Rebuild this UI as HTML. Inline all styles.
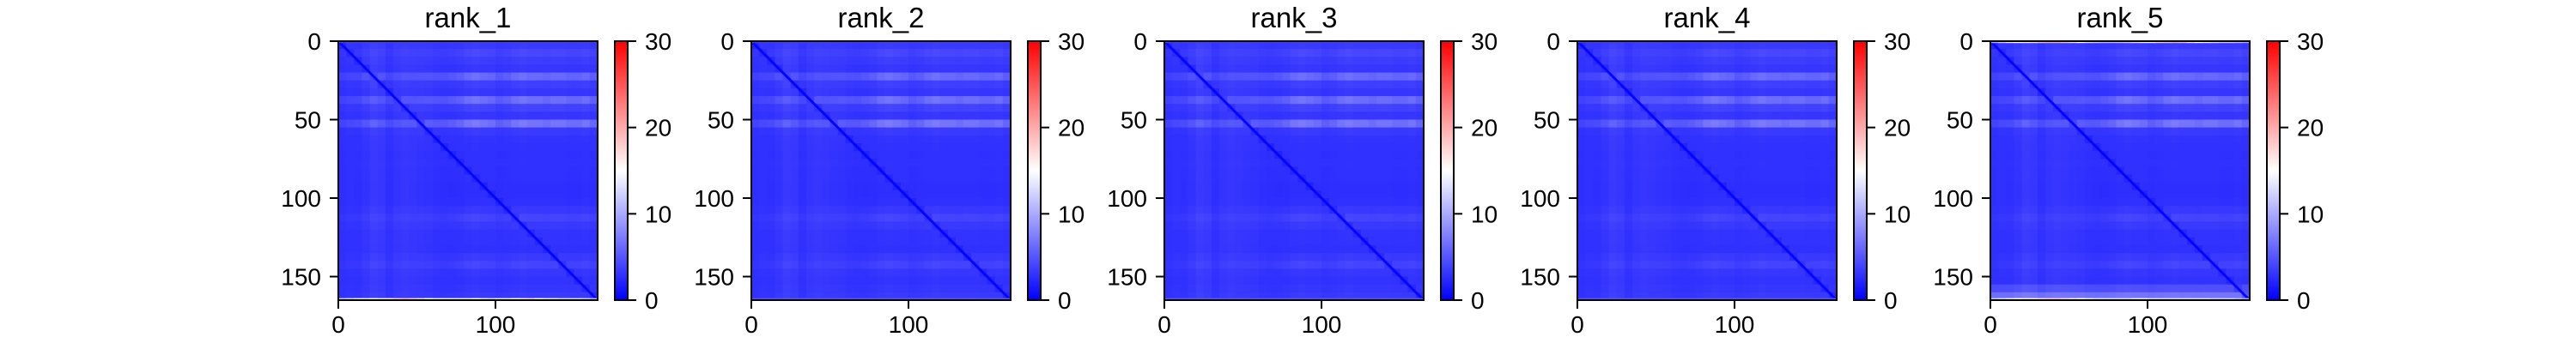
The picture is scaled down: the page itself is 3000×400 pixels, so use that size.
<!DOCTYPE html>
<html><head><meta charset="utf-8">
<style>
html,body{margin:0;padding:0;background:#fff;}
svg{display:block;font-family:"Liberation Sans","DejaVu Sans",sans-serif;}
</style></head>
<body>
<svg id="fig" width="3000" height="400" viewBox="0 0 3000 400" xmlns="http://www.w3.org/2000/svg">
<defs>
<linearGradient id="bwr" x1="0" y1="1" x2="0" y2="0">
<stop offset="0" stop-color="#0000ff"/><stop offset="0.5" stop-color="#ffffff"/><stop offset="1" stop-color="#ff0000"/>
</linearGradient>
</defs>
</svg>
<script>
// ---- data ----
const panelTitles = ["rank_1","rank_2","rank_3","rank_4","rank_5"];
const nResidues = 165;
const binSize = 5;
const baseValue = 2.3;
const diagValue = 0.3;
// row (y) band boosts per 5-residue bin
const rowBoost = [1.0,1.8,1.2,0.8,3.8,1.3,0.8,4.0,1.5,0.8,4.4,1.0,0.6,0.5,0.4,0.5,0.4,0.4,0.3,0.3,0.4,0.9,1.6,1.0,0.6,0.6,0.5,1.0,1.6,0.8,0.6,0.8,1.0];
// column weighting of row bands
const colScale = [0.3,0.35,0.4,0.5,0.6,0.5,0.4,0.45,0.5,0.5,0.55,0.6,0.6,0.6,0.7,0.8,1.0,1.1,1.0,0.9,0.7,0.8,1.0,1.1,1.0,1.0,0.9,1.0,1.0,0.9,0.9,1.0,0.8];
// column band boosts
const colBoost = [0.6,0.8,0.6,1.0,1.6,1.4,0.6,1.2,1.4,1.2,1.0,0.8,0.4,0.3,0.2,0.2,0.2,0.2,0.2,0.3,0.3,0.3,0.2,0.2,0.2,0.2,0.3,0.2,0.2,0.2,0.2,0.2,0.2];
// thin edge rows (top & bottom) per panel, values by column bin
const edgeBottomR1 = [12,13,14,14,15,14,16,18,19,18,17,15,14,14,14,14,14,15,14,13,14,14,15,16,17,15,14,14,13,13,13,12,11];
const edgeBottomR2 = [5,5,5,5,5,5,5,5,5,5,5,5,5,5,5,5,5,5,5,5,5,5,5,5,5,5,5,5,5,5,5,5,5];
const edgeBottomR5 = [12,13,14,15,16,16,17,18,18,17,16,15,14,13,13,13,13,13,14,14,13,13,13,13,13,13,13,13,12,12,12,11,10];
const edgeTopR5 = [10,12,14,15,16,17,19,20,20,19,17,15,13,12,11,11,11,12,13,14,16,18,19,20,19,17,15,14,13,12,12,11,10];
const edgeTopNone = [3.5,3.5,3.5,3.5,3.5,3.5,3.5,3.5,3.5,3.5,3.5,3.5,3.5,3.5,3.5,3.5,3.5,3.5,3.5,3.5,3.5,3.5,3.5,3.5,3.5,3.5,3.5,3.5,3.5,3.5,3.5,3.5,3.5];
const bottomRegionBoost = [0,0,0,0,0,0,0,0,0,0,0,0,0,0,0,0,0,0,0,0,0,0,0,0,0,0,0,0,0,0,0,1.5,3.5];
const xTicks = [0,100];
const yTicks = [0,50,100,150];
const cbTicks = [0,10,20,30];
const vmin = 0, vmax = 30;

// ---- layout ----
const NS = "http://www.w3.org/2000/svg";
const svg = document.getElementById("fig");
const panelX0 = 394, panelDX = 481, plotTop = 48, plotSize = 302;
const cbOffset = 322, cbW = 15;

function mk(tag, attrs, parent){const e=document.createElementNS(NS,tag);for(const k in attrs)e.setAttribute(k,attrs[k]);parent.appendChild(e);return e;}
function bwr(v){let t=(v-vmin)/(vmax-vmin);t=Math.max(0,Math.min(1,t));let r,g,b;
 if(t<0.5){r=g=Math.round(2*t*255);b=255;}else{r=255;g=b=Math.round((2-2*t)*255);}
 return `rgb(${r},${g},${b})`;}

const nb = Math.ceil(nResidues/binSize);
panelTitles.forEach((title,p)=>{
  const x0 = panelX0 + p*panelDX;
  const sc = plotSize/nResidues;
  const xs = v=>x0+v*sc, ys=v=>plotTop+v*sc;
  const g = mk("g",{},svg);
  
  
  const extraBottom = p===4 ? 1 : 0;
  for(let i=0;i<nb;i++){
    for(let j=0;j<nb;j++){
      const d = Math.abs(i-j);
      const diag = d===0?0.75:1;
      let v = diag*(baseValue + rowBoost[i]*colScale[j] + colBoost[j]*0.5 + extraBottom*bottomRegionBoost[i]);
      const r0=j*binSize, c0=i*binSize;
      const w=Math.min(binSize,nResidues-r0), h=Math.min(binSize,nResidues-c0);
      const rect = mk("rect",{x:xs(r0),y:ys(c0),width:w*sc+0.6,height:h*sc+0.6,fill:bwr(v)},g);
      
      
    }
  }
  const dl = mk("line",{x1:xs(0),y1:ys(0),x2:xs(nResidues),y2:ys(nResidues),stroke:bwr(diagValue),"stroke-width":3},g);
  
  
  const bottom = p===0?edgeBottomR1:(p===4?edgeBottomR5:edgeBottomR2);
  const top = p===4?edgeTopR5:edgeTopNone;
  for(let j=0;j<nb;j++){
    const r0=j*binSize, w=Math.min(binSize,nResidues-r0);
    const eb = mk("rect",{x:xs(r0),y:ys(nResidues-1.3),width:w*sc+0.6,height:1.3*sc,fill:bwr(bottom[j])},g);
    
    
    const et = mk("rect",{x:xs(r0),y:ys(0),width:w*sc+0.6,height:1.2*sc,fill:bwr(top[j])},g);
    
    
  }
  const frame = mk("rect",{x:x0,y:plotTop,width:plotSize,height:plotSize,fill:"none",stroke:"#000","stroke-width":2},g);
  
  
  const t = mk("text",{x:x0+plotSize/2,y:32,"text-anchor":"middle","font-size":33,fill:"#000"},g);
  t.textContent = title;
  
  
  xTicks.forEach(v=>{
    const tk=mk("line",{x1:xs(v),x2:xs(v),y1:plotTop+plotSize,y2:plotTop+plotSize+10,stroke:"#000","stroke-width":2},g);
    
    
    const l=mk("text",{x:xs(v),y:388,"text-anchor":"middle","font-size":28,fill:"#000"},g);
    l.textContent=v;
    
    
  });
  yTicks.forEach(v=>{
    const tk=mk("line",{x1:x0-10,x2:x0,y1:ys(v),y2:ys(v),stroke:"#000","stroke-width":2},g);
    
    
    const l=mk("text",{x:x0-20,y:ys(v)+10,"text-anchor":"end","font-size":28,fill:"#000"},g);
    l.textContent=v;
    
    
  });
  const cx = x0+cbOffset;
  const cb = mk("rect",{x:cx,y:plotTop,width:cbW,height:plotSize,fill:"url(#bwr)",stroke:"#000","stroke-width":2},g);
  
  
  cbTicks.forEach(v=>{
    const y = plotTop+plotSize - (v-vmin)/(vmax-vmin)*plotSize;
    const tk=mk("line",{x1:cx+cbW,x2:cx+cbW+10,y1:y,y2:y,stroke:"#000","stroke-width":2},g);
    
    
    const l=mk("text",{x:cx+cbW+20,y:y+10,"text-anchor":"start","font-size":28,fill:"#000"},g);
    l.textContent=v;
    
    
  });
});
</script>
</body></html>
